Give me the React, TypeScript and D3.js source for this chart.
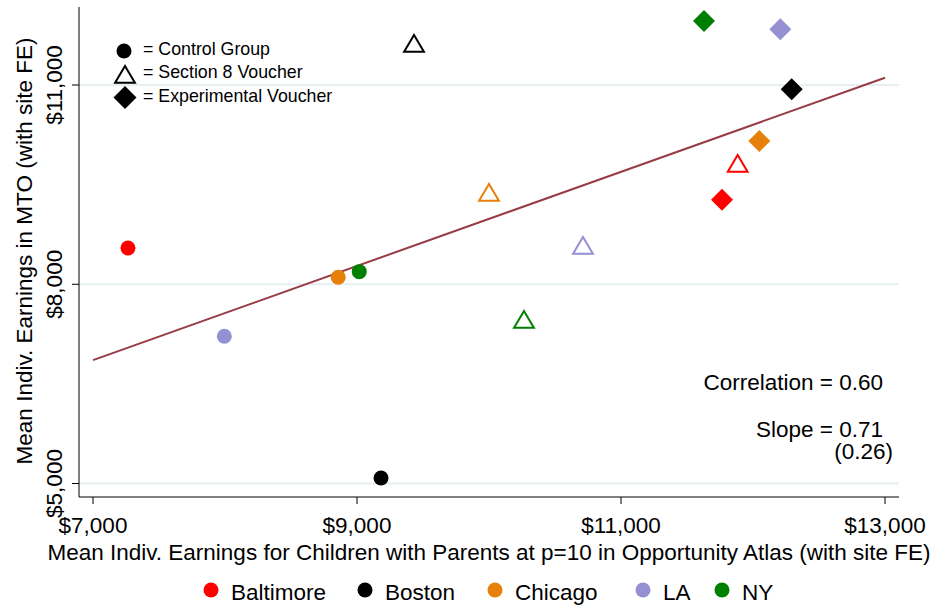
import React from "react";
import * as d3 from "d3";

const sites = ["Baltimore", "Boston", "Chicago", "LA", "NY"];
const siteColors = ["#ff0000", "#000000", "#e6800a", "#9590d2", "#008000"];

// Control group (circles)
const controlX = [7265, 9182, 8858, 7995, 9017];
const controlY = [8545, 5083, 8105, 7217, 8190];
// Section 8 voucher (open triangles)
const sec8X = [11884, 9432, 10000, 10712, 10265];
const sec8Y = [9810, 11617, 9373, 8575, 7462];
// Experimental voucher (diamonds)
const expX = [11765, 12293, 12048, 12207, 11629];
const expY = [9273, 10935, 10157, 11839, 11964];

const xTicks = [7000, 9000, 11000, 13000];
const yTicks = [5000, 8000, 11000];
const fitX = [7000, 13000];
const fitY = [6858, 11110];

const W = 937, H = 605;
const font = "'Liberation Sans', Arial, Helvetica, sans-serif";
const FS = 22.5;

export default function App() {
  const x = d3.scaleLinear().domain([7000, 13000]).range([93, 885]);
  const y = d3.scaleLinear().domain([5000, 11000]).range([483.5, 85]);
  const left = 79, right = 899, top = 7, bottom = 497;
  const fmt = (v: number) => "$" + d3.format(",")(v);
  const tri = (cx: number, cy: number, s = 9) =>
    `M${cx},${cy - s}L${cx + s * 1.1},${cy + s * 0.85}L${cx - s * 1.1},${cy + s * 0.85}Z`;
  const dia = (cx: number, cy: number, s = 11) =>
    `M${cx},${cy - s}L${cx + s},${cy}L${cx},${cy + s}L${cx - s},${cy}Z`;
  const line = d3.line<number>().x((_, i) => x(fitX[i])).y((d) => y(d));

  const legendX = [211, 365, 495, 643, 722];

  return (
    <svg width={W} height={H} style={{ position: "absolute", left: 0, top: 0, background: "#fff" }} fontFamily={font}>
      {yTicks.map((t) => (
        <line key={t} x1={left} x2={right} y1={y(t)} y2={y(t)} stroke="#e8eff2" strokeWidth={2} />
      ))}
      <line x1={left} x2={left} y1={top} y2={bottom} stroke="#000" strokeWidth={1} />
      <line x1={left} x2={right} y1={bottom} y2={bottom} stroke="#000" strokeWidth={1} />
      {yTicks.map((t) => (
        <g key={t}>
          <line x1={left - 7} x2={left} y1={y(t)} y2={y(t)} stroke="#000" />
          <text transform={`translate(62,${y(t)}) rotate(-90)`} textAnchor="middle" fontSize={FS}>{fmt(t)}</text>
        </g>
      ))}
      {xTicks.map((t) => (
        <g key={t}>
          <line x1={x(t)} x2={x(t)} y1={bottom} y2={bottom + 7} stroke="#000" />
          <text x={x(t)} y={533} textAnchor="middle" fontSize={FS}>{fmt(t)}</text>
        </g>
      ))}
      <text transform={`translate(32,251) rotate(-90)`} textAnchor="middle" fontSize={FS}>
        Mean Indiv. Earnings in MTO (with site FE)
      </text>
      <text x={489} y={560} textAnchor="middle" fontSize={FS}>
        Mean Indiv. Earnings for Children with Parents at p=10 in Opportunity Atlas (with site FE)
      </text>

      <path d={line(fitY) || ""} stroke="#973b46" strokeWidth={2} fill="none" />

      {controlX.map((v, i) => (
        <circle key={"c" + i} cx={x(v)} cy={y(controlY[i])} r={7.5} fill={siteColors[i]} />
      ))}
      {sec8X.map((v, i) => (
        <path key={"t" + i} d={tri(x(v), y(sec8Y[i]))} fill="none" stroke={siteColors[i]} strokeWidth={2} />
      ))}
      {expX.map((v, i) => (
        <path key={"d" + i} d={dia(x(v), y(expY[i]))} fill={siteColors[i]} />
      ))}

      <circle cx={124} cy={51} r={7.5} fill="#000" />
      <text x={143} y={55} fontSize={17.8}>= Control Group</text>
      <path d={tri(125, 75)} fill="none" stroke="#000" strokeWidth={2} />
      <text x={143} y={78} fontSize={17.8}>= Section 8 Voucher</text>
      <path d={dia(125, 97.5, 11.5)} fill="#000" />
      <text x={143} y={102} fontSize={17.8}>= Experimental Voucher</text>

      <text x={883} y={390} textAnchor="end" fontSize={FS}>Correlation = 0.60</text>
      <text x={883} y={437} textAnchor="end" fontSize={FS}>Slope = 0.71</text>
      <text x={893} y={459} textAnchor="end" fontSize={FS}>(0.26)</text>

      {sites.map((s, i) => (
        <g key={s}>
          <circle cx={legendX[i]} cy={590} r={7.5} fill={siteColors[i]} />
          <text x={legendX[i] + 20} y={600} fontSize={FS}>{s}</text>
        </g>
      ))}
    </svg>
  );
}
